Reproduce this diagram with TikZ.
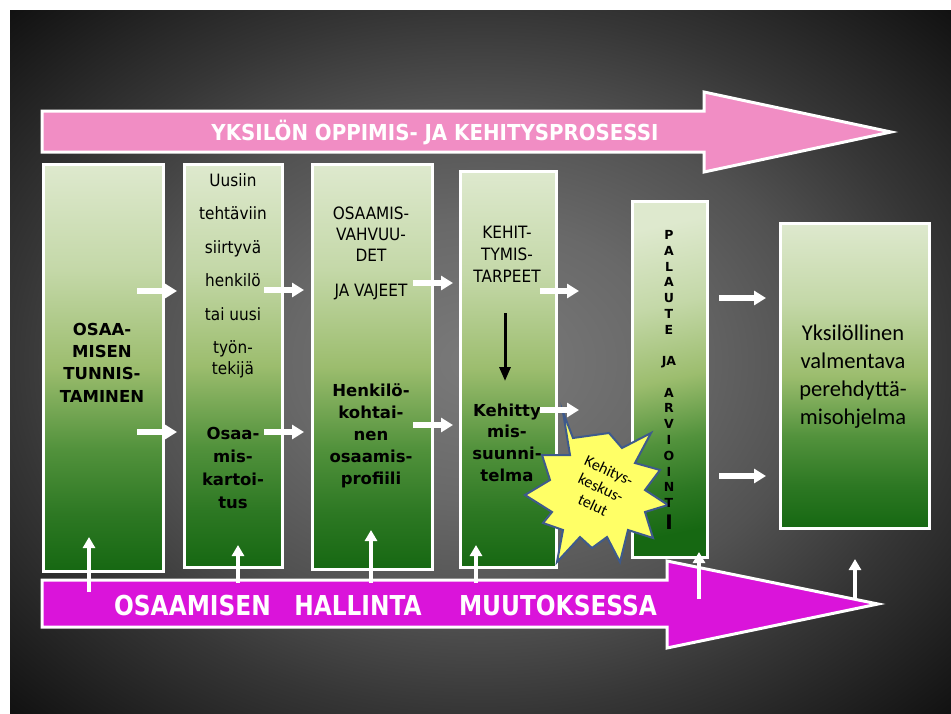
\documentclass[tikz,border=0pt]{standalone}
\usepackage{fontspec}
\setmainfont{DejaVu Sans}
\newfontfamily\tahf[FakeStretch=0.9]{DejaVu Sans}
\newfontfamily\condb[FakeStretch=0.9]{DejaVu Sans}
\newfontfamily\condc[FakeStretch=0.85]{DejaVu Sans}
\newfontfamily\calf{Carlito}
\usetikzlibrary{arrows.meta}
\definecolor{pinkA}{RGB}{241,141,196}
\definecolor{magA}{RGB}{218,20,218}
\definecolor{gLight}{RGB}{222,233,206}
\definecolor{gLightB}{RGB}{196,216,168}
\definecolor{gMid}{RGB}{156,189,110}
\definecolor{gMidB}{RGB}{82,146,60}
\definecolor{gMidC}{RGB}{45,120,35}
\definecolor{gDark}{RGB}{22,104,18}
\definecolor{starY}{RGB}{255,255,102}
\definecolor{starB}{RGB}{62,90,140}
\definecolor{bgA}{gray}{0.48}
\definecolor{bgB}{gray}{0.41}
\definecolor{bgC}{gray}{0.32}
\definecolor{bgD}{gray}{0.21}
\definecolor{bgE}{gray}{0.06}
\pgfdeclareverticalshading{gboxshade}{100bp}{color(0bp)=(gDark); color(25bp)=(gDark); color(32bp)=(gMidC); color(40bp)=(gMidB); color(50bp)=(gMid); color(62bp)=(gLightB); color(75bp)=(gLight); color(100bp)=(gLight)}
\pgfdeclareradialshading{bgshade}{\pgfpoint{0bp}{0bp}}{color(0bp)=(bgA); color(10bp)=(bgB); color(18bp)=(bgC); color(25bp)=(bgD); color(36bp)=(bgE); color(50bp)=(bgE)}
\begin{document}
\begin{tikzpicture}[x=1pt,y=-1pt,
  gbox/.style={draw=white, line width=3pt, shade, shading=gboxshade, inner sep=0pt, outer sep=0pt},
  harrow/.style={draw=white, line width=5.5pt, -{Triangle[length=12pt,width=14pt]}},
  uarrow/.style={draw=white, line width=4pt, -{Triangle[length=11pt,width=12pt]}},
  bigarrow/.style={draw=white, line width=3pt, line join=miter},
  regtxt/.style={font=\tahf\fontsize{17}{#1}\selectfont, align=center, inner sep=0pt},
  boldtxt/.style={font=\fontsize{16.5}{#1}\selectfont\bfseries, align=center, inner sep=0pt}]
\useasboundingbox (0,0) rectangle (951,713);
\fill[white] (0,0) rectangle (951,713);
\path[shading=bgshade] (10,10) rectangle (951,713);
% top arrow
\draw[bigarrow, fill=pinkA] (42,111) -- (704,111) -- (704,92) -- (891,132) -- (704,172) -- (704,152) -- (42,152) -- cycle;
\node[font=\condb\bfseries\fontsize{22}{22}\selectfont, text=white, anchor=base, inner sep=0pt] (ttop) at (435,140) {YKSILÖN OPPIMIS- JA KEHITYSPROSESSI};
% bottom arrow
\draw[bigarrow, fill=magA] (42,580) -- (667,580) -- (667,561) -- (878,604) -- (667,648) -- (667,627) -- (42,627) -- cycle;
\node[font=\condc\bfseries\fontsize{27.4}{27.4}\selectfont, text=white, anchor=base, inner sep=0pt] (tb1) at (192.5,615) {OSAAMISEN};
\node[font=\condc\bfseries\fontsize{27.4}{27.4}\selectfont, text=white, anchor=base, inner sep=0pt] (tb2) at (358,615) {HALLINTA};
\node[font=\condc\bfseries\fontsize{27.4}{27.4}\selectfont, text=white, anchor=base, inner sep=0pt] (tb3) at (558,615) {MUUTOKSESSA};
% boxes
\node[gbox, minimum width=120pt, minimum height=407pt] (b1) at (103,367.5) {};
\node[gbox, minimum width=98pt, minimum height=403pt] (b2) at (233,365.5) {};
\node[gbox, minimum width=120pt, minimum height=405pt] (b3) at (372,366.5) {};
\node[gbox, minimum width=96pt, minimum height=396pt] (b4) at (508,369) {};
\node[gbox, minimum width=75pt, minimum height=356pt, shading angle=12] (b5) at (669.5,379) {};
\node[gbox, minimum width=149pt, minimum height=305pt] (b6) at (854.5,375.5) {};
% star
\draw[fill=starY, draw=starB, line width=2pt, line join=miter]
 (563,412) -- (573,438) -- (609,433) -- (622,448) -- (651,433) -- (635,463) -- (660,470) -- (645,490)
 -- (668,505) -- (645,512) -- (653,538) -- (628,530) -- (620,562) -- (607,537) -- (592,548) -- (580,537)
 -- (557,562) -- (563,530) -- (543,523) -- (552,512) -- (525,495) -- (550,480) -- (542,455) -- (570,455) -- cycle;
\node[font=\calf\fontsize{16}{19}\selectfont, align=center, rotate=-25, inner sep=0pt] (tstar) at (601,488) {Kehitys-\\keskus-\\telut};
% texts
\node[boldtxt=22.3] (t1) at (102,362.5) {OSAA-\\MISEN\\TUNNIS-\\TAMINEN};
\node[regtxt=33.5] (t2a) at (233,276) {Uusiin\\tehtäviin\\siirtyvä\\henkilö\\tai uusi\\työn-\\[-12.5pt]tekijä};
\node[boldtxt=22.7] (t2b) at (233,468) {Osaa-\\mis-\\kartoi-\\tus};
\node[regtxt=21] (t3a) at (371,253.5) {OSAAMIS-\\VAHVUU-\\DET\\[14pt]JA VAJEET};
\node[boldtxt=22] (t3b) at (371,436) {Henkilö-\\kohtai-\\nen\\osaamis-\\profiili};
\node[regtxt=22] (t4a) at (507,254) {KEHIT-\\TYMIS-\\TARPEET};
\node[boldtxt=21.7] (t4b) at (507,442.5) {Kehitty\\mis-\\suunni-\\telma};
\node[font=\fontsize{12.5}{15.76}\selectfont\bfseries, align=center, inner sep=0pt] (t5) at (669,369) {P\\A\\L\\A\\U\\T\\E\\{}\\JA\\{}\\A\\R\\V\\I\\O\\I\\N\\T};
\node[font=\fontsize{20}{20}\selectfont\bfseries, inner sep=0pt] (t5i) at (669,522.5) {I};
\node[font=\calf\fontsize{22.5}{28}\selectfont, align=center, inner sep=0pt] (t6) at (853,377) {Yksilöllinen\\valmentava\\perehdyttä-\\misohjelma};
% black arrow
\coordinate (k1) at (505,313);
\coordinate (k2) at (505,381);
\draw[line width=3pt, -{Triangle[length=14pt,width=11pt]}] (k1) -- (k2);
% horizontal white arrows
\foreach \n/\yy/\xa/\xb in {1/291/137/177, 2/432/137/177, 3/290/264/304, 4/432/264/304, 5/283/413/453, 6/425/413/453, 7/291/540/579, 8/410/540/579, 9/298/719/766, 10/476/719/766}{
  \coordinate (h\n a) at (\xa,\yy);
  \coordinate (h\n b) at (\xb,\yy);
  \draw[harrow] (h\n a) -- (h\n b);
}
% up white arrows
\foreach \n/\xx/\ya/\yb in {1/89/592/537, 2/238/583/545, 3/371/583/530, 4/476/583/545, 5/699/599/552, 6/855/599/559}{
  \coordinate (u\n a) at (\xx,\ya);
  \coordinate (u\n b) at (\xx,\yb);
  \draw[uarrow] (u\n a) -- (u\n b);
}
\end{tikzpicture}
\end{document}
